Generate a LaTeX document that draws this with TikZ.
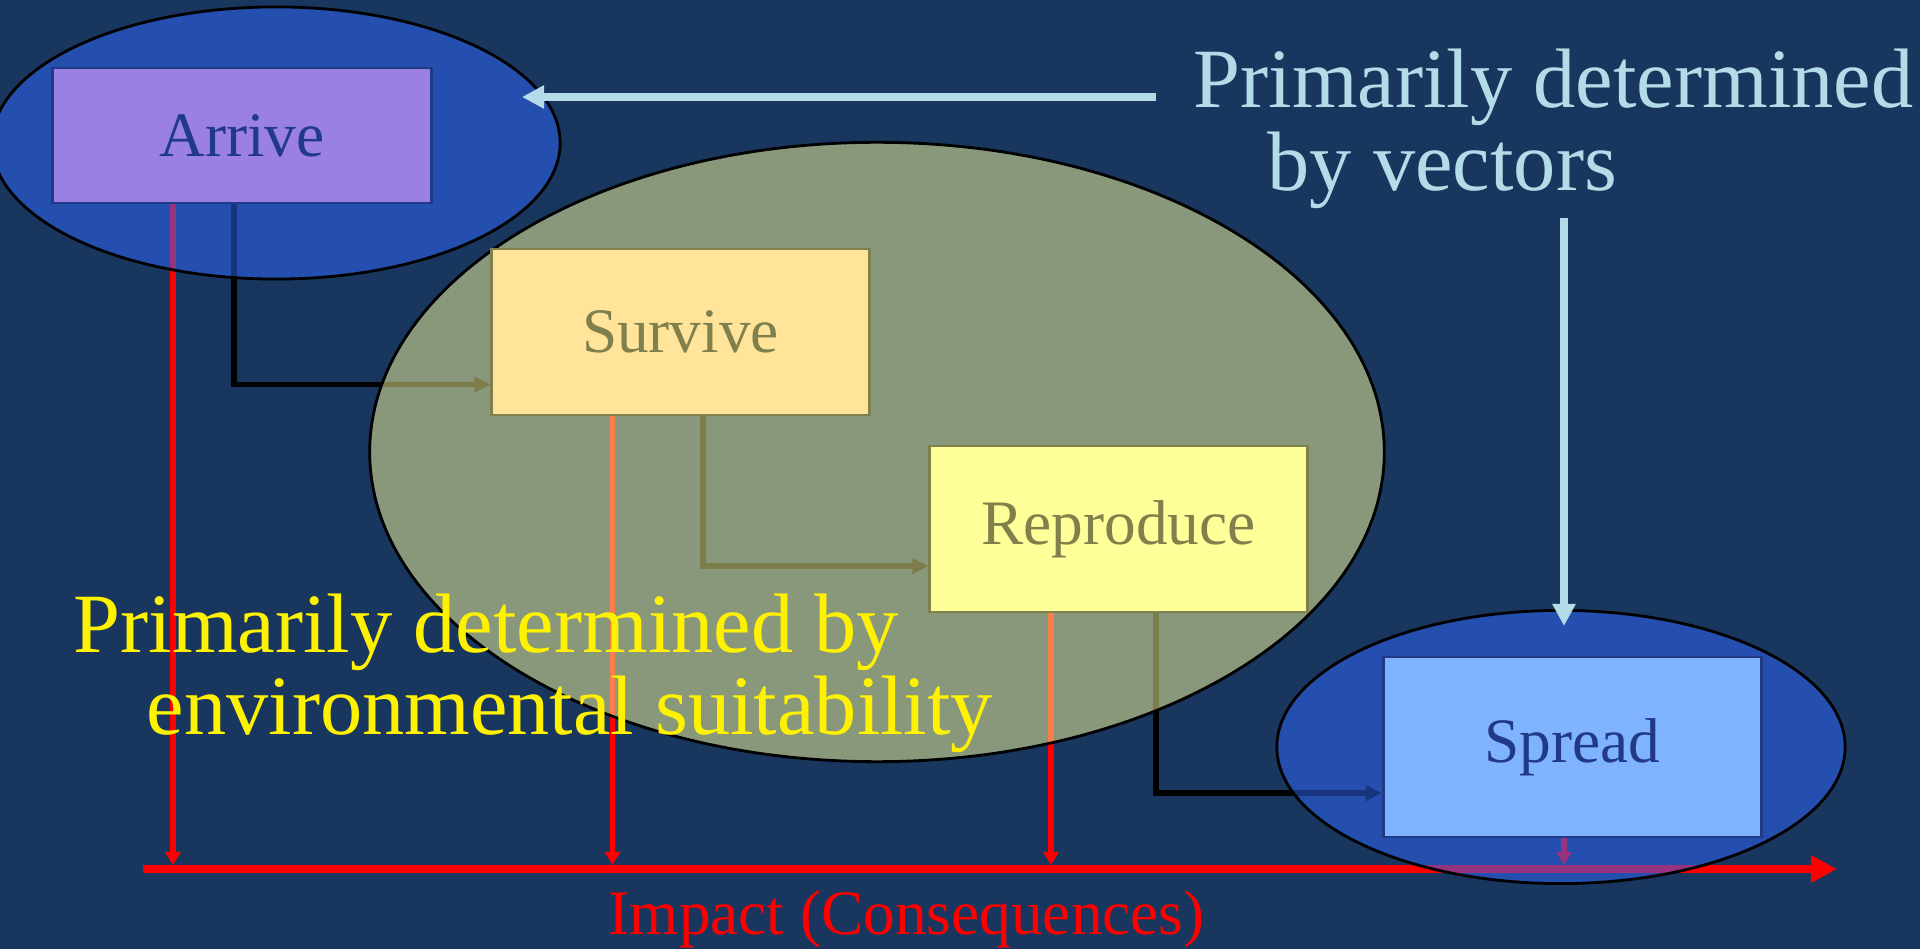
\documentclass[tikz,border=0pt]{standalone}
\usepackage{fontspec}
\setmainfont{Liberation Serif}
\usetikzlibrary{arrows.meta,shapes.geometric,positioning}

\pgfdeclarelayer{backdrop}
\pgfdeclarelayer{links}
\pgfdeclarelayer{zones}
\pgfsetlayers{backdrop,links,zones,main}

\definecolor{slideBg}{RGB}{24,54,94}
\definecolor{zoneBlue}{RGB}{48,104,254}
\definecolor{zoneGreen}{RGB}{250,250,152}
\definecolor{arriveFill}{RGB}{155,128,228}
\definecolor{surviveFill}{RGB}{255,228,153}
\definecolor{reproduceFill}{RGB}{255,255,153}
\definecolor{spreadFill}{RGB}{128,179,255}
\definecolor{blueInk}{RGB}{33,58,135}
\definecolor{oliveInk}{RGB}{128,128,77}
\definecolor{vectorBlue}{RGB}{180,220,232}

\begin{document}
\begin{tikzpicture}[x=0.01cm, y=-0.01cm]
	\tikzset{BoxStyle/.style = {
			shape=rectangle,
			line width=0.8pt,
			inner sep=0pt,
			font=\fontsize{18}{20}\selectfont
	}}
	\tikzset{ZoneStyle/.style = {
			shape=ellipse,
			draw=black,
			line width=0.8pt,
			fill opacity=0.5,
			inner sep=0pt
	}}
	\tikzset{FlowLink/.style = {
			draw=black,
			line width=1.5pt,
			-{Triangle[length=0.16cm,width=0.15cm]}
	}}
	\tikzset{ImpactLink/.style = {
			draw=red,
			line width=1.5pt,
			-{Triangle[length=0.13cm,width=0.15cm]}
	}}
	\tikzset{VectorLink/.style = {
			draw=vectorBlue,
			line width=2.2pt,
			-{Triangle[length=0.22cm,width=0.22cm]}
	}}
	\tikzset{BigText/.style = {
			inner sep=0pt,
			anchor=base west,
			font=\fontsize{24}{26}\selectfont
	}}

	\useasboundingbox (0,0) rectangle (1920,949);
	\begin{pgfonlayer}{backdrop}
		\fill[slideBg] (0,0) rectangle (1920,949);
	\end{pgfonlayer}

	% the four stages
	\node[BoxStyle, fill=arriveFill, draw=blueInk, text=blueInk,
		minimum width=3.78cm, minimum height=1.35cm] (Arrive) at (242,135.5) {Arrive};
	\node[BoxStyle, fill=surviveFill, draw=oliveInk, text=oliveInk,
		minimum width=3.77cm, minimum height=1.66cm] (Survive) at (680.5,332) {Survive};
	\node[BoxStyle, fill=reproduceFill, draw=oliveInk, text=oliveInk,
		minimum width=3.77cm, minimum height=1.66cm] (Reproduce) at (1118.5,529) {Reproduce};
	\node[BoxStyle, fill=spreadFill, draw=blueInk, text=blueInk,
		minimum width=3.78cm, minimum height=1.80cm] (Spread) at (1572.5,747) {Spread};

	% shaded zones
	\begin{pgfonlayer}{zones}
		\node[ZoneStyle, fill=zoneBlue, minimum width=5.68cm, minimum height=2.72cm] (zoneArrive) at (276,143) {};
		\node[ZoneStyle, fill=zoneGreen, minimum width=10.14cm, minimum height=6.19cm] (zoneEnv) at (877,452) {};
		\node[ZoneStyle, fill=zoneBlue, minimum width=5.68cm, minimum height=2.73cm] (zoneSpread) at (1561,747) {};
	\end{pgfonlayer}

	% impact axis
	\coordinate (impactStart) at (143,869);
	\coordinate (impactEnd) at (1837,869);
	\coordinate (impactTop) at (0,865);

	\begin{pgfonlayer}{links}
		\draw[red, line width=2.3pt, -{Triangle[length=0.26cm,width=0.26cm]}] (impactStart) -- (impactEnd);

		\draw[FlowLink] ([xshift=-0.08cm]Arrive.south) |- ([yshift=-0.525cm]Survive.west);
		\draw[FlowLink] ([xshift=0.225cm]Survive.south) |- ([yshift=-0.37cm]Reproduce.west);
		\draw[FlowLink] ([xshift=0.375cm]Reproduce.south) |- ([yshift=-0.46cm]Spread.west);

		\draw[ImpactLink] ([xshift=-0.69cm]Arrive.south) -- ([xshift=-0.69cm]Arrive.south |- impactTop);
		\draw[ImpactLink] ([xshift=-0.68cm]Survive.south) -- ([xshift=-0.68cm]Survive.south |- impactTop);
		\draw[ImpactLink] ([xshift=-0.675cm]Reproduce.south) -- ([xshift=-0.675cm]Reproduce.south |- impactTop);
		\draw[ImpactLink] ([xshift=-0.085cm]Spread.south) -- ([xshift=-0.085cm]Spread.south |- impactTop);
	\end{pgfonlayer}

	% texts
	\node[BigText, text=vectorBlue] (vecLine1) at (1193,108) {Primarily determined};
	\node[BigText, text=vectorBlue] (vecLine2) at (1267,191) {by vectors};
	\node[BigText, text=yellow] (envLine1) at (73,653) {Primarily determined by};
	\node[BigText, text=yellow] (envLine2) at (146,735) {environmental suitability};
	\node[BigText, text=red, font=\fontsize{18}{20}\selectfont] (impactLabel) at (608,935) {Impact (Consequences)};

	\coordinate (vecTipA) at (522,97);
	\coordinate (vecTipB) at (1564,626);
	\draw[VectorLink] ([shift={(-37,-11)}]vecLine1.base west) -- (vecTipA);
	\draw[VectorLink] ([shift={(297,27)}]vecLine2.base west) -- (vecTipB);
\end{tikzpicture}
\end{document}
